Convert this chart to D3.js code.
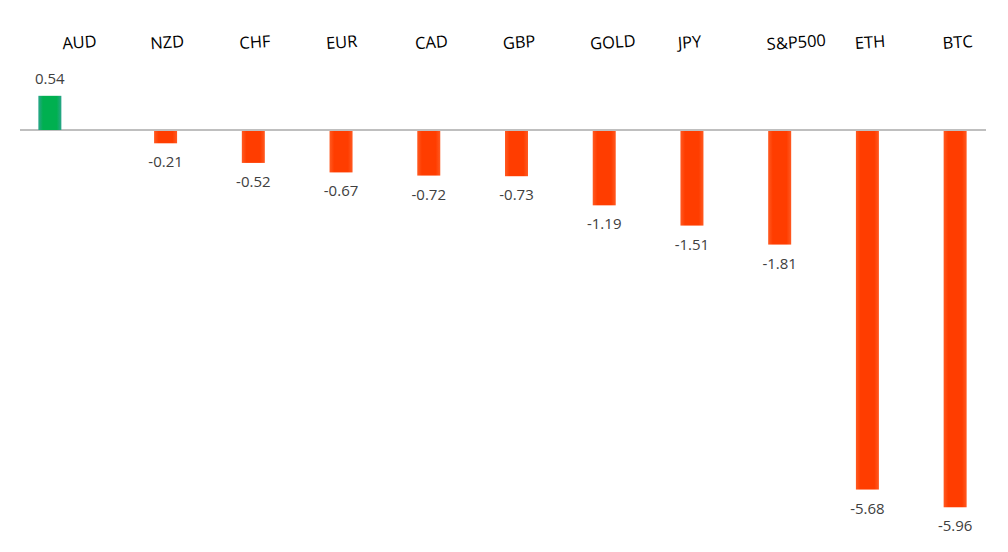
<!DOCTYPE html>
<html><head><meta charset="utf-8">
<script src="https://cdn.jsdelivr.net/npm/d3@7/dist/d3.min.js"></script>
<style>html,body{margin:0;padding:0;background:#fff;}svg{display:block;}</style>
</head><body>
<svg id="c" width="1008" height="552"></svg>
<script>
const categories = ["AUD","NZD","CHF","EUR","CAD","GBP","GOLD","JPY","S&P500","ETH","BTC"];
const values = [0.54,-0.21,-0.52,-0.67,-0.72,-0.73,-1.19,-1.51,-1.81,-5.68,-5.96];
const valueLabels = ["0.54","-0.21","-0.52","-0.67","-0.72","-0.73","-1.19","-1.51","-1.81","-5.68","-5.96"];

const svg = d3.select("#c");
const defs = svg.append("defs");
function grad(id, edge, mid){
  const g = defs.append("linearGradient").attr("id", id).attr("x1","0").attr("x2","1").attr("y1","0").attr("y2","0");
  g.append("stop").attr("offset","0").attr("stop-color", edge);
  g.append("stop").attr("offset","0.2").attr("stop-color", mid);
  g.append("stop").attr("offset","0.8").attr("stop-color", mid);
  g.append("stop").attr("offset","1").attr("stop-color", edge);
}
grad("gPos", "#2aa58a", "#00b050");
grad("gNeg", "#ff5a22", "#ff3d00");

const x = d3.scaleBand().domain(categories).range([34, 999]).paddingInner(0.74).paddingOuter(0.37);
const y = d3.scaleLinear().domain([0, -6]).range([130, 509.8]);

// zero line
svg.append("line").attr("x1", 20).attr("x2", 986).attr("y1", y(0)).attr("y2", y(0))
  .attr("stroke", "#bfbfbf").attr("stroke-width", 2);

const bw = 23;
svg.selectAll("rect.bar").data(values).join("rect")
  .attr("class","bar")
  .attr("x", (d,i) => x(categories[i]) + x.bandwidth()/2 - bw/2 - (i===0 ? 28 : 0))
  .attr("y", d => d >= 0 ? y(d) : y(0) + 1)
  .attr("width", bw)
  .attr("height", d => Math.abs(y(d) - y(0)) - (d >= 0 ? 0 : 1))
  .attr("fill", d => d >= 0 ? "url(#gPos)" : "url(#gNeg)");

// value labels
svg.selectAll("text.val").data(values).join("text")
  .attr("class","val")
  .attr("x", (d,i) => x(categories[i]) + x.bandwidth()/2 - (i===0 ? 28 : 0))
  .attr("y", d => d >= 0 ? y(d) - 12 : y(d) + 24)
  .attr("text-anchor","middle")
  .attr("font-family","'Open Sans', 'Liberation Sans', sans-serif")
  .attr("font-size", 15)
  .attr("fill","#404040")
  .text((d,i) => valueLabels[i]);

// category labels (slightly rotated)
const labelShift = [2, 2, 2, 1, 3, 3, 9, -2, 17, 3, 3];
svg.selectAll("text.cat").data(categories).join("text")
  .attr("class","cat")
  .attr("transform", (d,i) => `translate(${x(d) + x.bandwidth()/2 + labelShift[i]},48) rotate(-4)`)
  .attr("text-anchor","middle")
  .attr("font-family","'Open Sans', 'Liberation Sans', sans-serif")
  .attr("font-size", 16.5)
  .attr("fill","#000")
  .text(d => d);
</script>
</body></html>
